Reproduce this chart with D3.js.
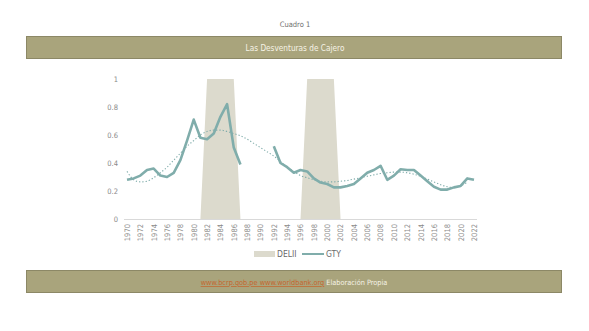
<!DOCTYPE html>
<html>
<head>
<meta charset="utf-8">
<script src="https://cdn.jsdelivr.net/npm/d3@7"></script>
<style>
  html, body { margin: 0; padding: 0; background: #ffffff; }
  svg { display: block; }
  text { font-family: "Liberation Sans Narrow", "DejaVu Sans Condensed", "Roboto Condensed", sans-serif; }
</style>
</head>
<body>
<svg id="chart" width="589" height="331"></svg>
<script>
// Years on the category axis
const years = d3.range(1970, 2023);

// DELII: shaded periods (1 = active)
const delii = [
  0,0,0,0,0,0,0,0,0,0,   // 1970-1979
  0,0,1,1,1,1,1,0,0,0,   // 1980-1989
  0,0,0,0,0,0,0,1,1,1,   // 1990-1999
  1,1,0,0,0,0,0,0,0,0,   // 2000-2009
  0,0,0,0,0,0,0,0,0,0,   // 2010-2019
  0,0,0                  // 2020-2022
];

// GTY series (null = no data)
const gty = [
  0.28,0.29,0.31,0.35,0.36,0.31,0.30,0.33,0.42,0.56,  // 1970-1979
  0.71,0.58,0.57,0.61,0.73,0.82,0.51,0.39,null,null,  // 1980-1989
  null,null,0.52,0.40,0.37,0.33,0.35,0.34,0.29,0.26,  // 1990-1999
  0.25,0.226,0.226,0.236,0.25,0.29,0.33,0.35,0.38,0.28, // 2000-2009
  0.31,0.355,0.35,0.35,0.31,0.27,0.23,0.21,0.21,0.226, // 2010-2019
  0.236,0.29,0.28                                      // 2020-2022
];

// GTY trend (dotted), 1970-2021
const gtyTrend = [
  0.34,0.28,0.265,0.27,0.295,0.33,0.37,0.42,0.47,0.52,  // 1970-1979
  0.56,0.60,0.625,0.635,0.635,0.625,0.61,0.595,0.57,0.54, // 1980-1989
  0.51,0.48,0.45,0.41,0.37,0.34,0.31,0.295,0.28,0.27,   // 1990-1999
  0.265,0.265,0.27,0.275,0.285,0.295,0.305,0.315,0.325,0.33, // 2000-2009
  0.335,0.335,0.33,0.32,0.305,0.285,0.265,0.245,0.23,0.225,  // 2010-2019
  0.235,0.265                                             // 2020-2021
];

const yTicks = [0, 0.2, 0.4, 0.6, 0.8, 1];
const xTickYears = years.filter(y => (y - 1970) % 2 === 0);

const svg = d3.select("#chart");
const headerFill = "#a9a47c", headerStroke = "#8c8866";
const areaColor = "#dcdacd", lineColor = "#80adab", textGray = "#8a8a8a";

// Caption
svg.append("text").attr("x", 295).attr("y", 27).attr("text-anchor", "middle")
  .attr("font-size", 7.5).attr("fill", "#707070").text("Cuadro 1");

// Title banner
svg.append("rect").attr("x", 26.5).attr("y", 36.5).attr("width", 535).attr("height", 22)
  .attr("fill", headerFill).attr("stroke", headerStroke).attr("stroke-width", 1);
svg.append("text").attr("x", 295).attr("y", 51).attr("text-anchor", "middle")
  .attr("font-size", 8.2).attr("fill", "#f6f3e6")
  .text("Las Desventuras de Cajero");

// Scales
const x = d3.scalePoint().domain(years).range([127, 474]);
const y = d3.scaleLinear().domain([0, 1]).range([219, 79]);

// Shaded DELII periods
svg.append("path")
  .datum(years.map((yr, i) => ({ yr, v: delii[i] })))
  .attr("fill", areaColor)
  .attr("d", d3.area().x(d => x(d.yr)).y0(y(0)).y1(d => y(d.v)));

// X axis
const xAxis = svg.append("g").attr("transform", `translate(0,${y(0)})`)
  .call(d3.axisBottom(x).tickValues(xTickYears).tickSize(0).tickPadding(5));
xAxis.select(".domain").attr("stroke", "#d9d9d9").attr("d", "M124,0.5H477");
xAxis.selectAll("text")
  .attr("font-size", 7.5).attr("fill", textGray)
  .attr("transform", "rotate(-90)")
  .attr("text-anchor", "end")
  .attr("x", -5).attr("y", 0).attr("dy", "0.32em");

// Y axis
const yAxis = svg.append("g").attr("transform", "translate(118,0)")
  .call(d3.axisLeft(y).tickValues(yTicks).tickSize(0).tickPadding(0)
    .tickFormat(d => d === 0 || d === 1 ? d3.format("d")(d) : d3.format(".1f")(d)));
yAxis.select(".domain").remove();
yAxis.selectAll("text").attr("font-size", 7.5).attr("fill", textGray);

// Trend (dotted)
svg.append("path")
  .datum(gtyTrend.map((v, i) => ({ yr: years[i], v })))
  .attr("fill", "none").attr("stroke", lineColor).attr("stroke-width", 1.1)
  .attr("stroke-dasharray", "1.3,2")
  .attr("d", d3.line().curve(d3.curveMonotoneX).x(d => x(d.yr)).y(d => y(d.v)));

// GTY line
svg.append("path")
  .datum(years.map((yr, i) => ({ yr, v: gty[i] })))
  .attr("fill", "none").attr("stroke", lineColor).attr("stroke-width", 2.6)
  .attr("stroke-linejoin", "round")
  .attr("d", d3.line().defined(d => d.v !== null).x(d => x(d.yr)).y(d => y(d.v)));

// Legend
const lg = svg.append("g").attr("transform", "translate(0,254)");
lg.append("rect").attr("x", 254).attr("y", -3).attr("width", 21).attr("height", 6).attr("fill", areaColor);
lg.append("text").attr("x", 277).attr("y", 0).attr("dy", "0.35em").attr("font-size", 8.5)
  .attr("fill", "#6a6a6a").text("DELII");
lg.append("line").attr("x1", 302).attr("x2", 324).attr("y1", 0).attr("y2", 0)
  .attr("stroke", lineColor).attr("stroke-width", 2);
lg.append("text").attr("x", 326).attr("y", 0).attr("dy", "0.35em").attr("font-size", 8.5)
  .attr("fill", "#6a6a6a").text("GTY");

// Source banner
svg.append("rect").attr("x", 26.5).attr("y", 270.5).attr("width", 535).attr("height", 22)
  .attr("fill", headerFill).attr("stroke", headerStroke).attr("stroke-width", 1);
const src = svg.append("text").attr("x", 294).attr("y", 285).attr("text-anchor", "middle")
  .attr("font-size", 7.3);
src.append("tspan").attr("fill", "#c4662e").attr("text-decoration", "underline")
  .text("www.bcrp.gob.pe www.worldbank.org");
src.append("tspan").attr("fill", "#f6f3e6").text(" Elaboración Propia");
</script>
</body>
</html>
